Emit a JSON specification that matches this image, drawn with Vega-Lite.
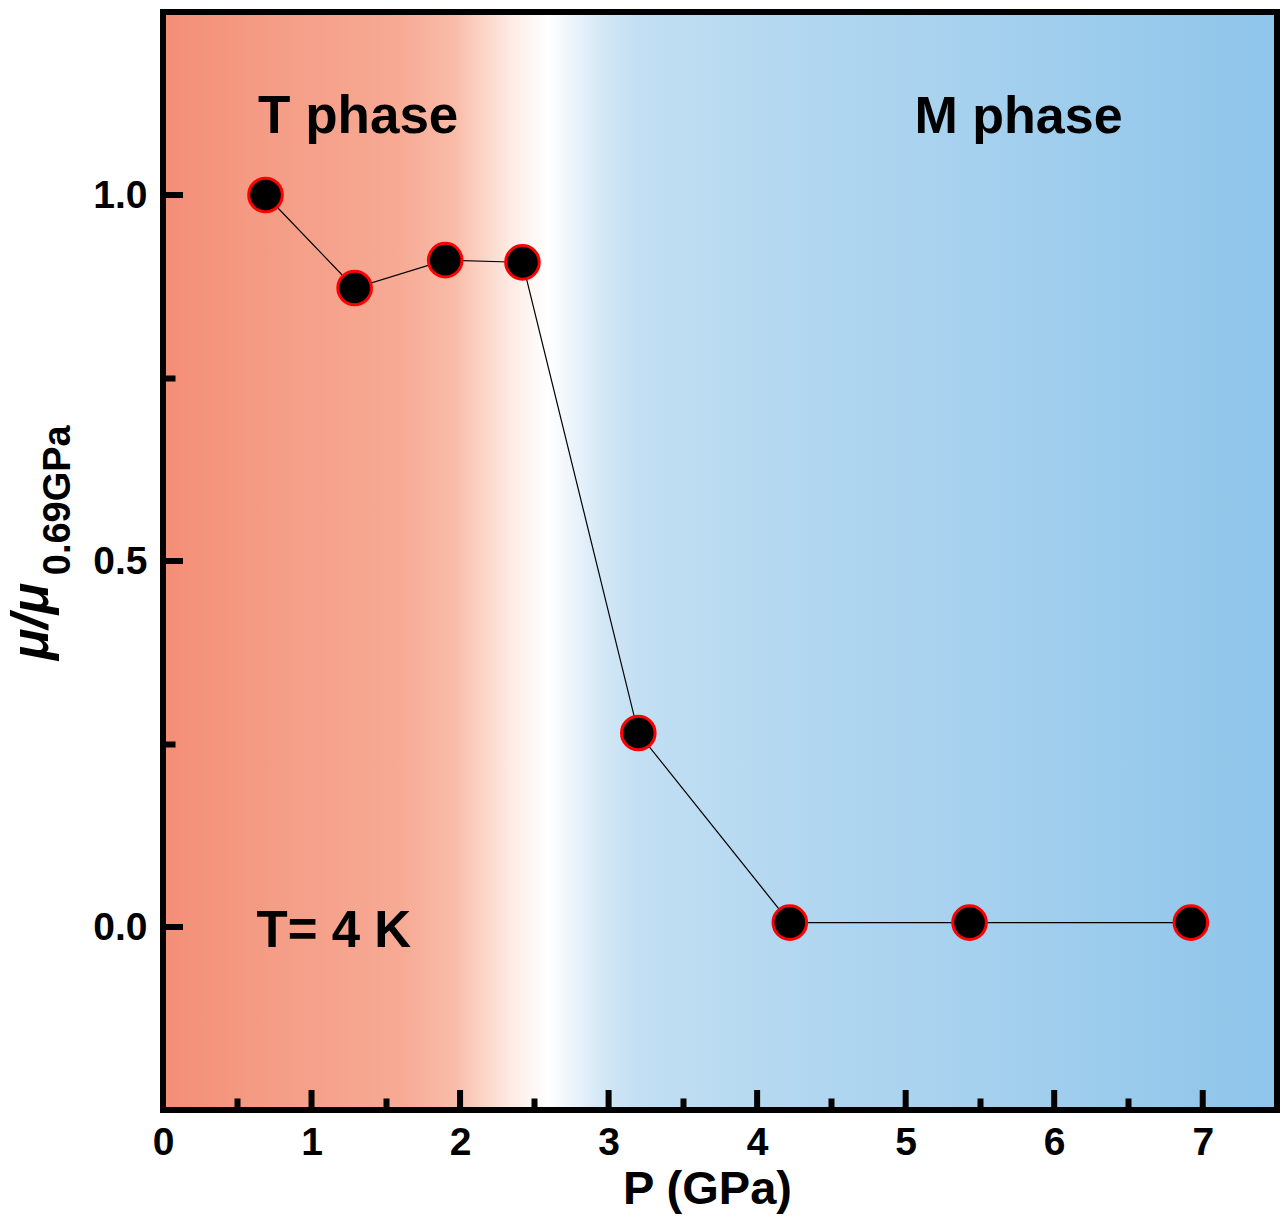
{
  "$schema": "https://vega.github.io/schema/vega-lite/v6.json",
  "width": 1114,
  "height": 1098,
  "autosize": "none",
  "padding": {"left": 163, "top": 12, "right": 9, "bottom": 108},
  "background": "white",
  "config": {
    "view": {"stroke": null},
    "font": "Liberation Sans",
    "axis": {
      "grid": false,
      "domain": false,
      "zindex": 1,
      "tickColor": "black",
      "tickWidth": 6,
      "labelFont": "Liberation Sans",
      "labelFontWeight": "bold",
      "labelFontSize": 39,
      "labelColor": "black",
      "titleFont": "Liberation Sans",
      "titleFontWeight": "bold",
      "titleColor": "black"
    }
  },
  "resolve": {"axis": {"x": "independent", "y": "independent"}},
  "datasets": {
    "points": [
      {"P": 0.69, "mu": 1.0},
      {"P": 1.29, "mu": 0.873},
      {"P": 1.90, "mu": 0.911},
      {"P": 2.42, "mu": 0.908},
      {"P": 3.20, "mu": 0.265},
      {"P": 4.22, "mu": 0.006},
      {"P": 5.43, "mu": 0.006},
      {"P": 6.92, "mu": 0.006}
    ],
    "xmajor": [{"t": 1}, {"t": 2}, {"t": 3}, {"t": 4}, {"t": 5}, {"t": 6}, {"t": 7}],
    "ymajor": [{"t": 0}, {"t": 0.5}, {"t": 1.0}],
    "labels": [
      {"x": 0.64, "y": 1.085, "text": "T phase", "size": 53},
      {"x": 5.06, "y": 1.085, "text": "M phase", "size": 52},
      {"x": 0.63, "y": -0.027, "text": "T= 4 K", "size": 51}
    ]
  },
  "layer": [
    {
      "data": {"values": [{}]},
      "mark": {
        "type": "rect",
        "stroke": "black",
        "strokeWidth": 6,
        "fill": {
          "gradient": "linear",
          "x1": 0, "y1": 0, "x2": 1, "y2": 0,
          "stops": [
            {"offset": 0, "color": "#F48E76"},
            {"offset": 0.1, "color": "#F59D86"},
            {"offset": 0.213, "color": "#F7AA94"},
            {"offset": 0.262, "color": "#F9BCA9"},
            {"offset": 0.285, "color": "#FBD2C4"},
            {"offset": 0.311, "color": "#FDEAE2"},
            {"offset": 0.345, "color": "#FFFFFF"},
            {"offset": 0.37, "color": "#EAF3FB"},
            {"offset": 0.392, "color": "#D5E8F6"},
            {"offset": 0.427, "color": "#C2DFF3"},
            {"offset": 0.57, "color": "#B2D7F0"},
            {"offset": 0.75, "color": "#A4D0EE"},
            {"offset": 1, "color": "#8EC5EA"}
          ]
        }
      },
      "encoding": {
        "x": {"datum": 0, "type": "quantitative", "scale": {"domain": [0, 7.5], "nice": false, "zero": false},
          "axis": {
            "orient": "bottom",
            "zindex": 1,
            "values": [0, 1, 2, 3, 4, 5, 6, 7],
            "format": "d",
            "ticks": false,
            "labelPadding": 13,
            "labelFlush": false,
            "title": "P (GPa)",
            "titleFontSize": 47,
            "titleX": 544,
            "titleY": 93,
            "titleBaseline": "alphabetic",
            "titleAnchor": "middle"
          }},
        "x2": {"datum": 7.5},
        "y": {"datum": -0.25, "type": "quantitative", "scale": {"domain": [-0.25, 1.25], "nice": false, "zero": false},
          "axis": {
            "orient": "left",
            "zindex": 1,
            "values": [0, 0.5, 1.0],
            "format": ".1f",
            "ticks": false,
            "labelPadding": 16,
            "labelFlush": false,
            "title": "μ/μ",
            "titleFontSize": 52,
            "titleFontStyle": "italic",
            "titleAngle": 270,
            "titleX": -116,
            "titleY": 609,
            "titleAlign": "center",
            "titleBaseline": "alphabetic"
          }},
        "y2": {"datum": 1.25}
      }
    },
    {
      "data": {"name": "xmajor"},
      "mark": {"type": "rule", "color": "black", "strokeWidth": 6},
      "encoding": {
        "x": {"field": "t", "type": "quantitative", "axis": null},
        "y": {"datum": -0.25, "type": "quantitative", "axis": null},
        "y2": {"datum": -0.2227}
      }
    },
    {
      "data": {"name": "ymajor"},
      "mark": {"type": "rule", "color": "black", "strokeWidth": 6},
      "encoding": {
        "y": {"field": "t", "type": "quantitative", "axis": null},
        "x": {"datum": 0, "type": "quantitative", "axis": null},
        "x2": {"datum": 0.1347}
      }
    },
    {
      "data": {"name": "points"},
      "mark": {"type": "line", "color": "black", "strokeWidth": 1.2},
      "encoding": {
        "x": {"field": "P", "type": "quantitative", "axis": null},
        "y": {"field": "mu", "type": "quantitative", "axis": null}
      }
    },
    {
      "data": {"name": "points"},
      "mark": {"type": "point", "shape": "circle", "filled": true, "fill": "black", "stroke": "#FF0000", "strokeWidth": 3, "size": 1130, "opacity": 1},
      "encoding": {
        "x": {"field": "P", "type": "quantitative",
          "axis": {
            "orient": "bottom",
            "zindex": 1,
            "values": [0.5, 1.5, 2.5, 3.5, 4.5, 5.5, 6.5],
            "tickSize": -12,
            "labels": false,
            "title": null
          }},
        "y": {"field": "mu", "type": "quantitative",
          "axis": {
            "orient": "left",
            "zindex": 1,
            "values": [0.25, 0.75],
            "tickSize": -12,
            "labels": false,
            "title": null
          }}
      }
    },
    {
      "data": {"name": "labels"},
      "mark": {"type": "text", "font": "Liberation Sans", "fontWeight": "bold", "align": "left", "baseline": "alphabetic", "color": "black"},
      "encoding": {
        "x": {"field": "x", "type": "quantitative", "axis": null},
        "y": {"field": "y", "type": "quantitative", "axis": null},
        "text": {"field": "text"},
        "size": {"field": "size", "type": "quantitative", "scale": null}
      }
    },
    {
      "data": {"values": [{"x": -0.626, "y": 0.583, "text": "0.69GPa"}]},
      "mark": {"type": "text", "font": "Liberation Sans", "fontWeight": "bold", "fontSize": 38, "angle": 270, "align": "center", "baseline": "alphabetic", "color": "black"},
      "encoding": {
        "x": {"field": "x", "type": "quantitative", "axis": null},
        "y": {"field": "y", "type": "quantitative", "axis": null},
        "text": {"field": "text"}
      }
    }
  ]
}
